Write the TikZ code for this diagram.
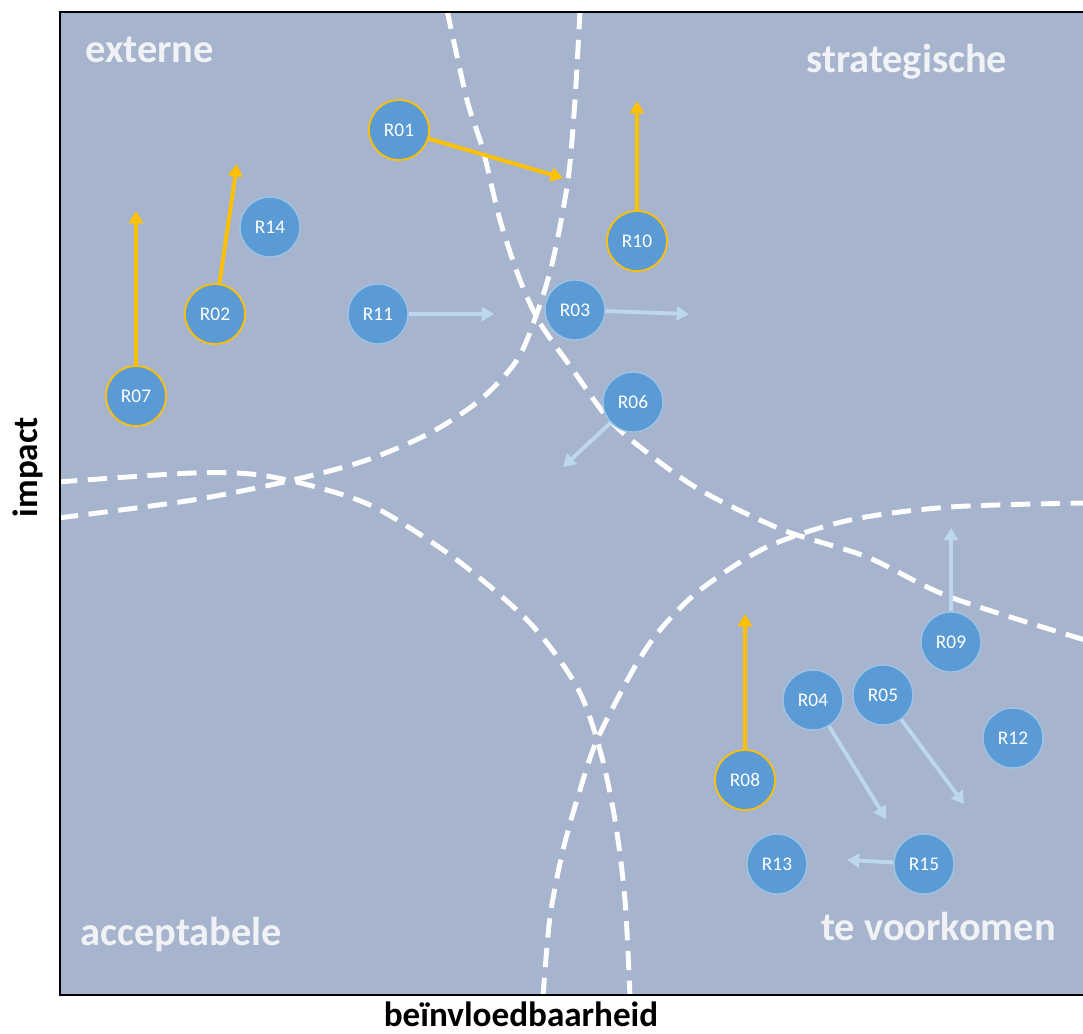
\documentclass[tikz,border=0pt]{standalone}
\usepackage{fontspec}
\setmainfont{Carlito}
\usetikzlibrary{arrows.meta}

\definecolor{fieldbg}{RGB}{166,180,206}
\definecolor{riskblue}{RGB}{91,155,213}
\definecolor{riskedge}{RGB}{157,195,230}
\definecolor{shiftyellow}{RGB}{255,192,0}
\definecolor{trendblue}{RGB}{189,215,238}
\definecolor{zonetext}{RGB}{240,242,246}

\tikzset{
  risk/.style={circle, fill=riskblue, draw=riskedge, line width=0.8pt, minimum size=1.2cm, inner sep=0pt, text=white, font=\fontsize{11}{12}\selectfont},
  moved/.style={risk, draw=shiftyellow, line width=1pt},
  shiftarrow/.style={-{Triangle[length=7pt,width=8pt]}, draw=shiftyellow, line width=2.2pt},
  trendarrow/.style={-{Triangle[length=7pt,width=8pt]}, draw=trendblue, line width=2.2pt},
  zone/.style={text=zonetext, font=\bfseries\fontsize{23}{26}\selectfont, anchor=base west, inner sep=0pt},
  axislabel/.style={font=\bfseries\fontsize{20}{22}\selectfont},
  zoneline/.style={white, line width=2.8pt, dash pattern=on 11pt off 6pt},
}

\begin{document}
\begin{tikzpicture}[x=0.02cm, y=-0.02cm]
			\useasboundingbox (0,0) rectangle (1083,1034);
			\fill[fieldbg] (60,12) rectangle (1083,995);
			% zone boundaries
			\begin{scope}
				\clip (60,12) rectangle (1083,995);
				\draw[zoneline] plot[smooth] coordinates {(447,10) (467,100) (483,150) (500,220) (520,280) (540,323) (573,370) (607,417) (640,447) (700,490) (783,530) (867,557) (950,597) (1085,640)};
				\draw[zoneline] plot[smooth] coordinates {(580,10) (575,100) (568,180) (553,260) (537,313) (517,360) (480,400) (430,433) (367,460) (293,480) (193,500) (58,518)};
				\draw[zoneline] plot[smooth] coordinates {(58,482) (193,473) (260,475) (327,490) (380,510) (457,560) (530,623) (577,687) (600,750) (615,820) (625,900) (630,997)};
				\draw[zoneline] plot[smooth] coordinates {(543,997) (550,917) (563,850) (580,790) (597,740) (633,670) (660,630) (700,590) (767,547) (850,520) (950,507) (1085,503)};
			\end{scope}
			\draw[line width=1.7pt] (1083,12) -- (60,12) -- (60,995) -- (1083,995);
			% zone names
			\node[zone] (zext) at (85,63) {externe};
			\node[zone] (zstr) at (806,73) {strategische};
			\node[zone] (zacc) at (80,945) {acceptabele};
			\node[zone] (zvoo) at (821,940) {te voorkomen};
			\node[axislabel, rotate=90] (yaxis) at (28,467) {impact};
			\node[axislabel] (xaxis) at (521,1014) {beïnvloedbaarheid};
			% risks
			\node[moved] (r01) at (399,130) {R01};
			\node[moved] (r02) at (215,314) {R02};
			\node[risk] (r03) at (575,310) {R03};
			\node[risk] (r04) at (813,700) {R04};
			\node[risk] (r05) at (883,695) {R05};
			\node[risk] (r06) at (633,402) {R06};
			\node[moved] (r07) at (136,396) {R07};
			\node[moved] (r08) at (745,780) {R08};
			\node[risk] (r09) at (951,642) {R09};
			\node[moved] (r10) at (637,241) {R10};
			\node[risk] (r11) at (378,314) {R11};
			\node[risk] (r12) at (1013,738) {R12};
			\node[risk] (r13) at (777,864) {R13};
			\node[risk] (r14) at (270,227) {R14};
			\node[risk] (r15) at (924,864) {R15};
			% arrow ends
			\coordinate (e01) at (563,178);
			\coordinate (e02) at (237,164);
			\coordinate (e03) at (689,314);
			\coordinate (e04) at (886,819);
			\coordinate (e05) at (964,804);
			\coordinate (e06) at (563,467);
			\coordinate (e07) at (136,211);
			\coordinate (e08) at (745,614);
			\coordinate (e09) at (951,528);
			\coordinate (e10) at (637,101);
			\coordinate (e11) at (494,314);
			\coordinate (e15) at (847,860);
			\draw[shiftarrow] (r01) -- (e01);
			\draw[shiftarrow] (r02) -- (e02);
			\draw[shiftarrow] (r07) -- (e07);
			\draw[shiftarrow] (r08) -- (e08);
			\draw[shiftarrow] (r10) -- (e10);
			\draw[trendarrow] (r03) -- (e03);
			\draw[trendarrow] (r04) -- (e04);
			\draw[trendarrow] (r05) -- (e05);
			\draw[trendarrow] (r06) -- (e06);
			\draw[trendarrow] (r09) -- (e09);
			\draw[trendarrow] (r11) -- (e11);
			\draw[trendarrow] (r15) -- (e15);
		\end{tikzpicture}
\end{document}
